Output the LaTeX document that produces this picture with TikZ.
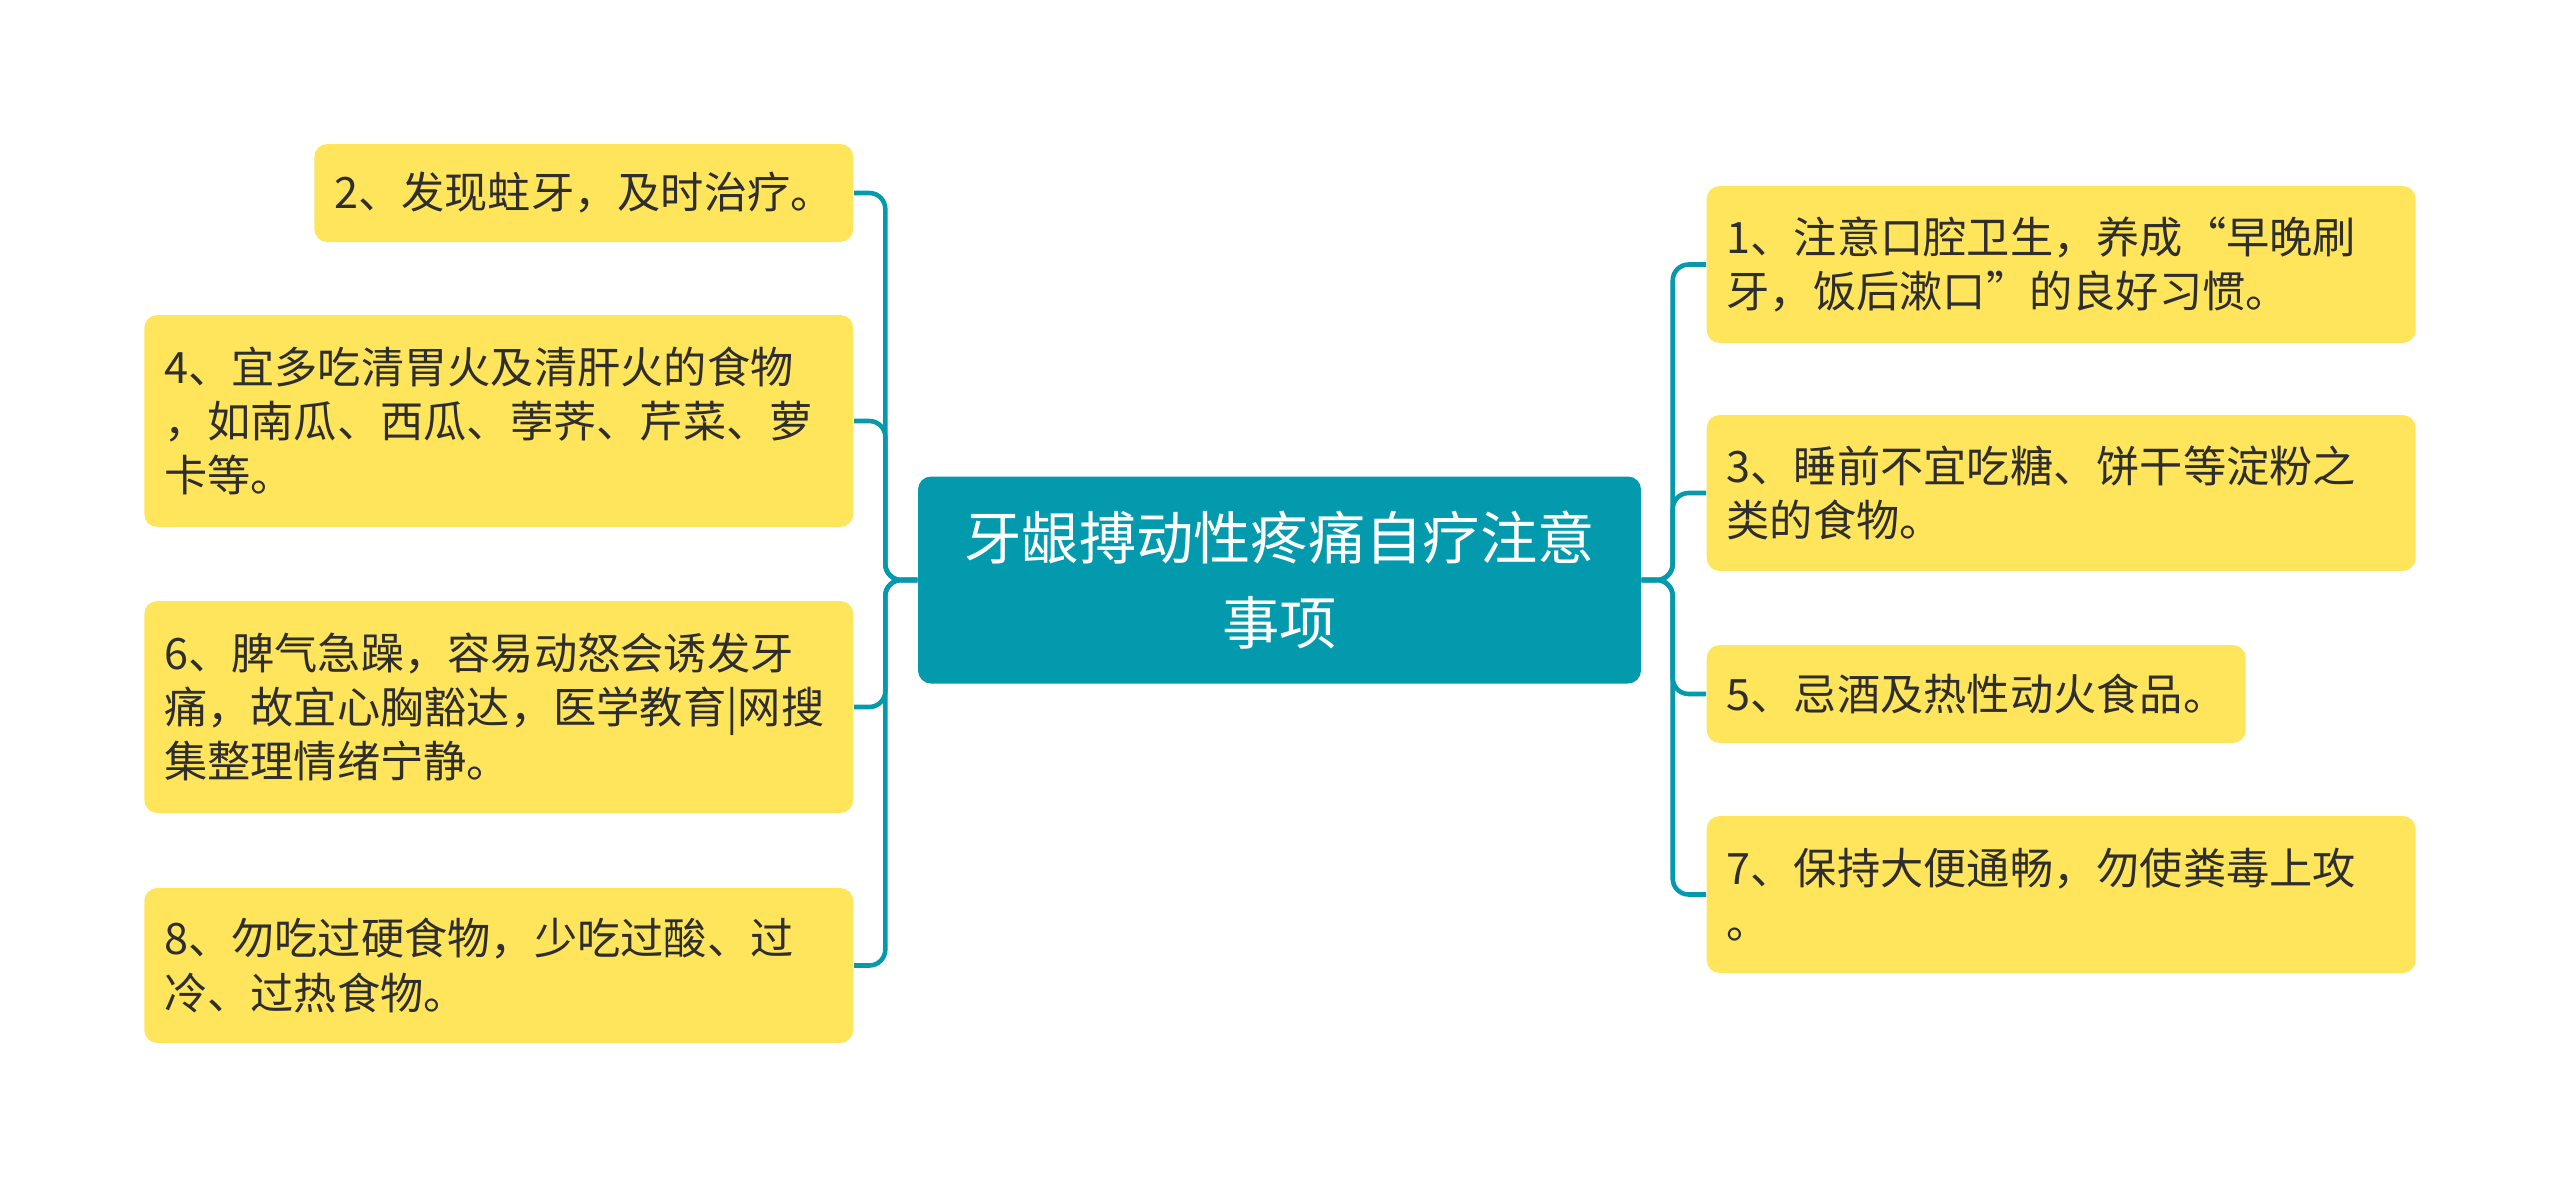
\documentclass[tikz,border=0pt]{standalone}
\usepackage{fontspec}
\newfontfamily\cjk{Noto Sans CJK SC}
\usepackage{tikz}

\definecolor{leafyellow}{HTML}{FFE55C}
\definecolor{rootteal}{HTML}{039AAD}
\definecolor{textdark}{HTML}{2E2E2E}

\begin{document}
\begin{tikzpicture}[
    box/.style={
        rounded corners=0.13cm,
        inner xsep=0.2cm,
        inner ysep=2pt
    },
    root/.style={
        box,
        fill=rootteal,
        text=white,
        align=center,
        font={\cjk\fontsize{16.3pt}{24.2pt}\selectfont},
        minimum width=7.23cm,
        minimum height=2.07cm
    },
    leaf/.style={
        box,
        fill=leafyellow,
        text=textdark,
        align=left,
        font={\cjk\fontsize{12.3pt}{15.4pt}\selectfont}
    },
    wide/.style={leaf, text width=6.69cm},
    narrow/.style={leaf, text width=4.99cm},
    link/.style={draw=rootteal, line width=1.3pt, rounded corners=0.16cm}
]
\useasboundingbox (0,0) rectangle (25.6,-11.89);

\node[root] (root) at (12.795,-5.8) {牙龈搏动性疼痛自疗注意\\事项};

\node[narrow, minimum height=0.98cm, anchor=east] (n2) at (8.54,-1.93) {2、发现蛀牙，及时治疗。};
\node[wide, minimum height=2.12cm, anchor=east] (n4) at (8.54,-4.21)
{4、宜多吃清胃火及清肝火的食物\\，如南瓜、西瓜、荸荠、芹菜、萝\\卡等。};
\node[wide, minimum height=2.12cm, anchor=east] (n6) at (8.54,-7.07)
{6、脾气急躁，容易动怒会诱发牙\\痛，故宜心胸豁达，医学教育|网搜\\集整理情绪宁静。};
\node[wide, minimum height=1.55cm, anchor=east] (n8) at (8.54,-9.655)
{8、勿吃过硬食物，少吃过酸、过\\冷、过热食物。};

\node[wide, minimum height=1.57cm, anchor=west] (n1) at (17.06,-2.645)
{1、注意口腔卫生，养成“早晚刷\\牙，饭后漱口”的良好习惯。};
\node[wide, minimum height=1.56cm, anchor=west] (n3) at (17.06,-4.93)
{3、睡前不宜吃糖、饼干等淀粉之\\类的食物。};
\node[narrow, minimum height=0.98cm, anchor=west] (n5) at (17.06,-6.94) {5、忌酒及热性动火食品。};
\node[wide, minimum height=1.57cm, anchor=west] (n7) at (17.06,-8.945)
{7、保持大便通畅，勿使粪毒上攻\\。};

\draw[link] (root.west) -- ++(-0.32,0) |- (n2.east);
\draw[link] (root.west) -- ++(-0.32,0) |- (n4.east);
\draw[link] (root.west) -- ++(-0.32,0) |- (n6.east);
\draw[link] (root.west) -- ++(-0.32,0) |- (n8.east);

\draw[link] (root.east) -- ++(0.31,0) |- (n1.west);
\draw[link] (root.east) -- ++(0.31,0) |- (n3.west);
\draw[link] (root.east) -- ++(0.31,0) |- (n5.west);
\draw[link] (root.east) -- ++(0.31,0) |- (n7.west);

\end{tikzpicture}
\end{document}
